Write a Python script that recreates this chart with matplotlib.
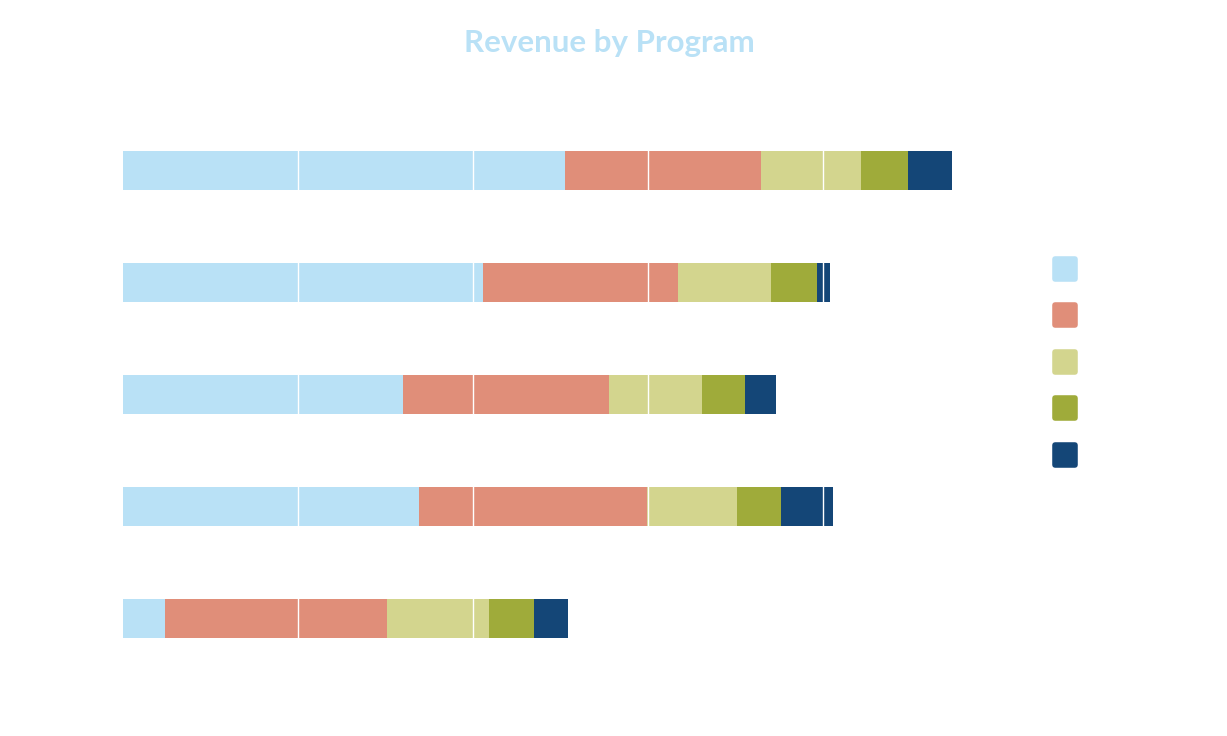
import matplotlib
matplotlib.use("Agg")
import matplotlib.pyplot as plt
from matplotlib.lines import Line2D
from matplotlib.markers import MarkerStyle
import numpy as np

# programs, top to bottom
programs = ["Program 1", "Program 2", "Program 3", "Program 4", "Program 5"]
series = ["Series 1", "Series 2", "Series 3", "Series 4", "Series 5"]

s1 = [252.7, 205.9, 159.7, 168.9, 24.0]
s2 = [111.8, 111.2, 118.1, 130.6, 126.6]
s3 = [57.0, 53.1, 53.1, 51.3, 58.2]
s4 = [26.8, 26.2, 24.5, 25.1, 26.2]
s5 = [25.1, 7.4, 17.7, 29.7, 19.4]

colors = ["#b9e1f6", "#e08e79", "#d3d58e", "#9fab3a", "#144677"]

fig = plt.figure(figsize=(12.27, 7.36), dpi=100)
ax = fig.add_axes([0.1002, 0.0835, 0.7135, 0.761])

y = np.arange(len(programs))
left = np.zeros(len(programs))
for vals, col, name in zip([s1, s2, s3, s4, s5], colors, series):
    ax.barh(y, vals, left=left, height=0.34, color=col, label=name, zorder=1)
    left += np.array(vals)

ax.set_xlim(0, 500)
ax.set_ylim(len(programs) - 0.5, -0.5)
ax.set_xticks(range(100, 500, 100))
ax.set_yticks(y)
ax.tick_params(length=0, labelleft=False, labelbottom=False)
ax.set_axisbelow(False)
ax.grid(axis="x", color="white", linewidth=1, zorder=3)
for sp in ax.spines.values():
    sp.set_visible(False)

fig.text(0.497, 0.942, "Revenue by Program", ha="center", va="center",
         fontsize=22.5, fontweight="bold", color="#b9e1f6", family="Lato")

ms = MarkerStyle("s", joinstyle="round")
handles = [Line2D([], [], linestyle="none", marker=ms, markersize=15,
                  markerfacecolor=c, markeredgecolor=c, markeredgewidth=4)
           for c in colors]
leg = fig.legend(handles, series, loc="center left",
                 bbox_to_anchor=(0.848, 0.505), frameon=False, fontsize=10,
                 handlelength=1.8, handleheight=1.8, labelspacing=1.93,
                 handletextpad=0.8)
for t in leg.get_texts():
    t.set_color("white")

fig.savefig("out.png", dpi=100, facecolor="white")
